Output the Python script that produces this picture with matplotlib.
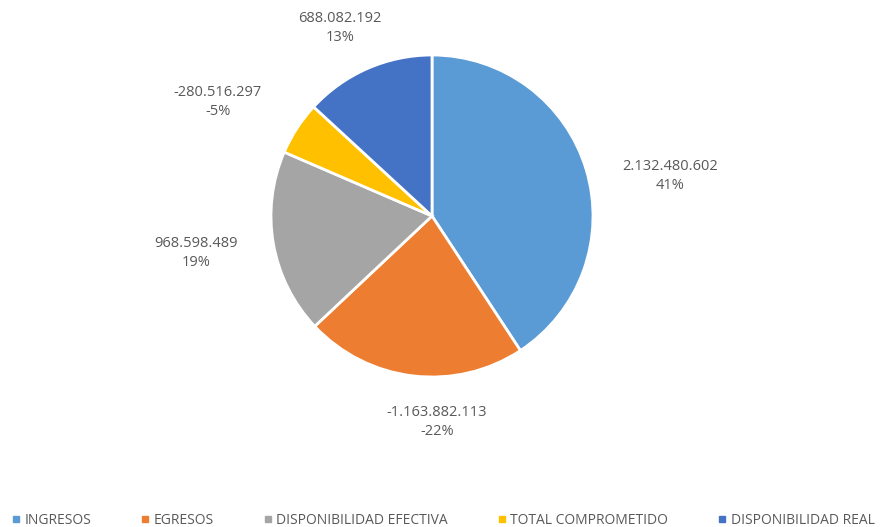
import matplotlib
matplotlib.use("Agg")
import matplotlib.pyplot as plt
from matplotlib.lines import Line2D

# Datos
categorias = ["INGRESOS", "EGRESOS", "DISPONIBILIDAD EFECTIVA",
              "TOTAL COMPROMETIDO", "DISPONIBILIDAD REAL"]
valores = [2132480602, -1163882113, 968598489, -280516297, 688082192]
colores = ["#5B9BD5", "#ED7D31", "#A5A5A5", "#FFC000", "#4472C4"]

# posiciones de las etiquetas (pixeles en la imagen)
pos_etiquetas = [(670, 176), (437, 422), (196, 253), (218, 102), (340, 28)]

W, H = 885, 527
plt.rcParams['font.family'] = ['Open Sans', 'DejaVu Sans']
fig = plt.figure(figsize=(W / 100, H / 100), dpi=100)
ax = fig.add_axes([0, 0, 1, 1])
ax.set_xlim(0, W)
ax.set_ylim(0, H)
ax.set_aspect("equal")
ax.axis("off")

abs_vals = [abs(v) for v in valores]
total = sum(abs_vals)
ax.pie(abs_vals, colors=colores, startangle=90, counterclock=False,
       center=(432, H - 216), radius=161,
       wedgeprops=dict(edgecolor="white", linewidth=2))
ax.set_xlim(0, W)
ax.set_ylim(0, H)

def fmt(v):
    s = f"{abs(v):,}".replace(",", ".")
    return ("-" if v < 0 else "") + s

for v, a, (px, py) in zip(valores, abs_vals, pos_etiquetas):
    pct = round(a / total * 100)
    if v < 0:
        pct = -pct
    ax.text(px, H - py, f"{fmt(v)}\n{pct}%", ha="center", va="center",
            fontsize=10.5, color="#595959", linespacing=1.4)

handles = [Line2D([], [], marker="s", linestyle="", color=c, markersize=5)
           for c in colores]
fig.legend(handles, categorias, loc="lower center", ncol=5, frameon=False,
           fontsize=10, bbox_to_anchor=(0.5, -0.025), handletextpad=0.2,
           handlelength=0.8, columnspacing=3.5, labelcolor="#595959")

fig.savefig("out.png", dpi=100)
